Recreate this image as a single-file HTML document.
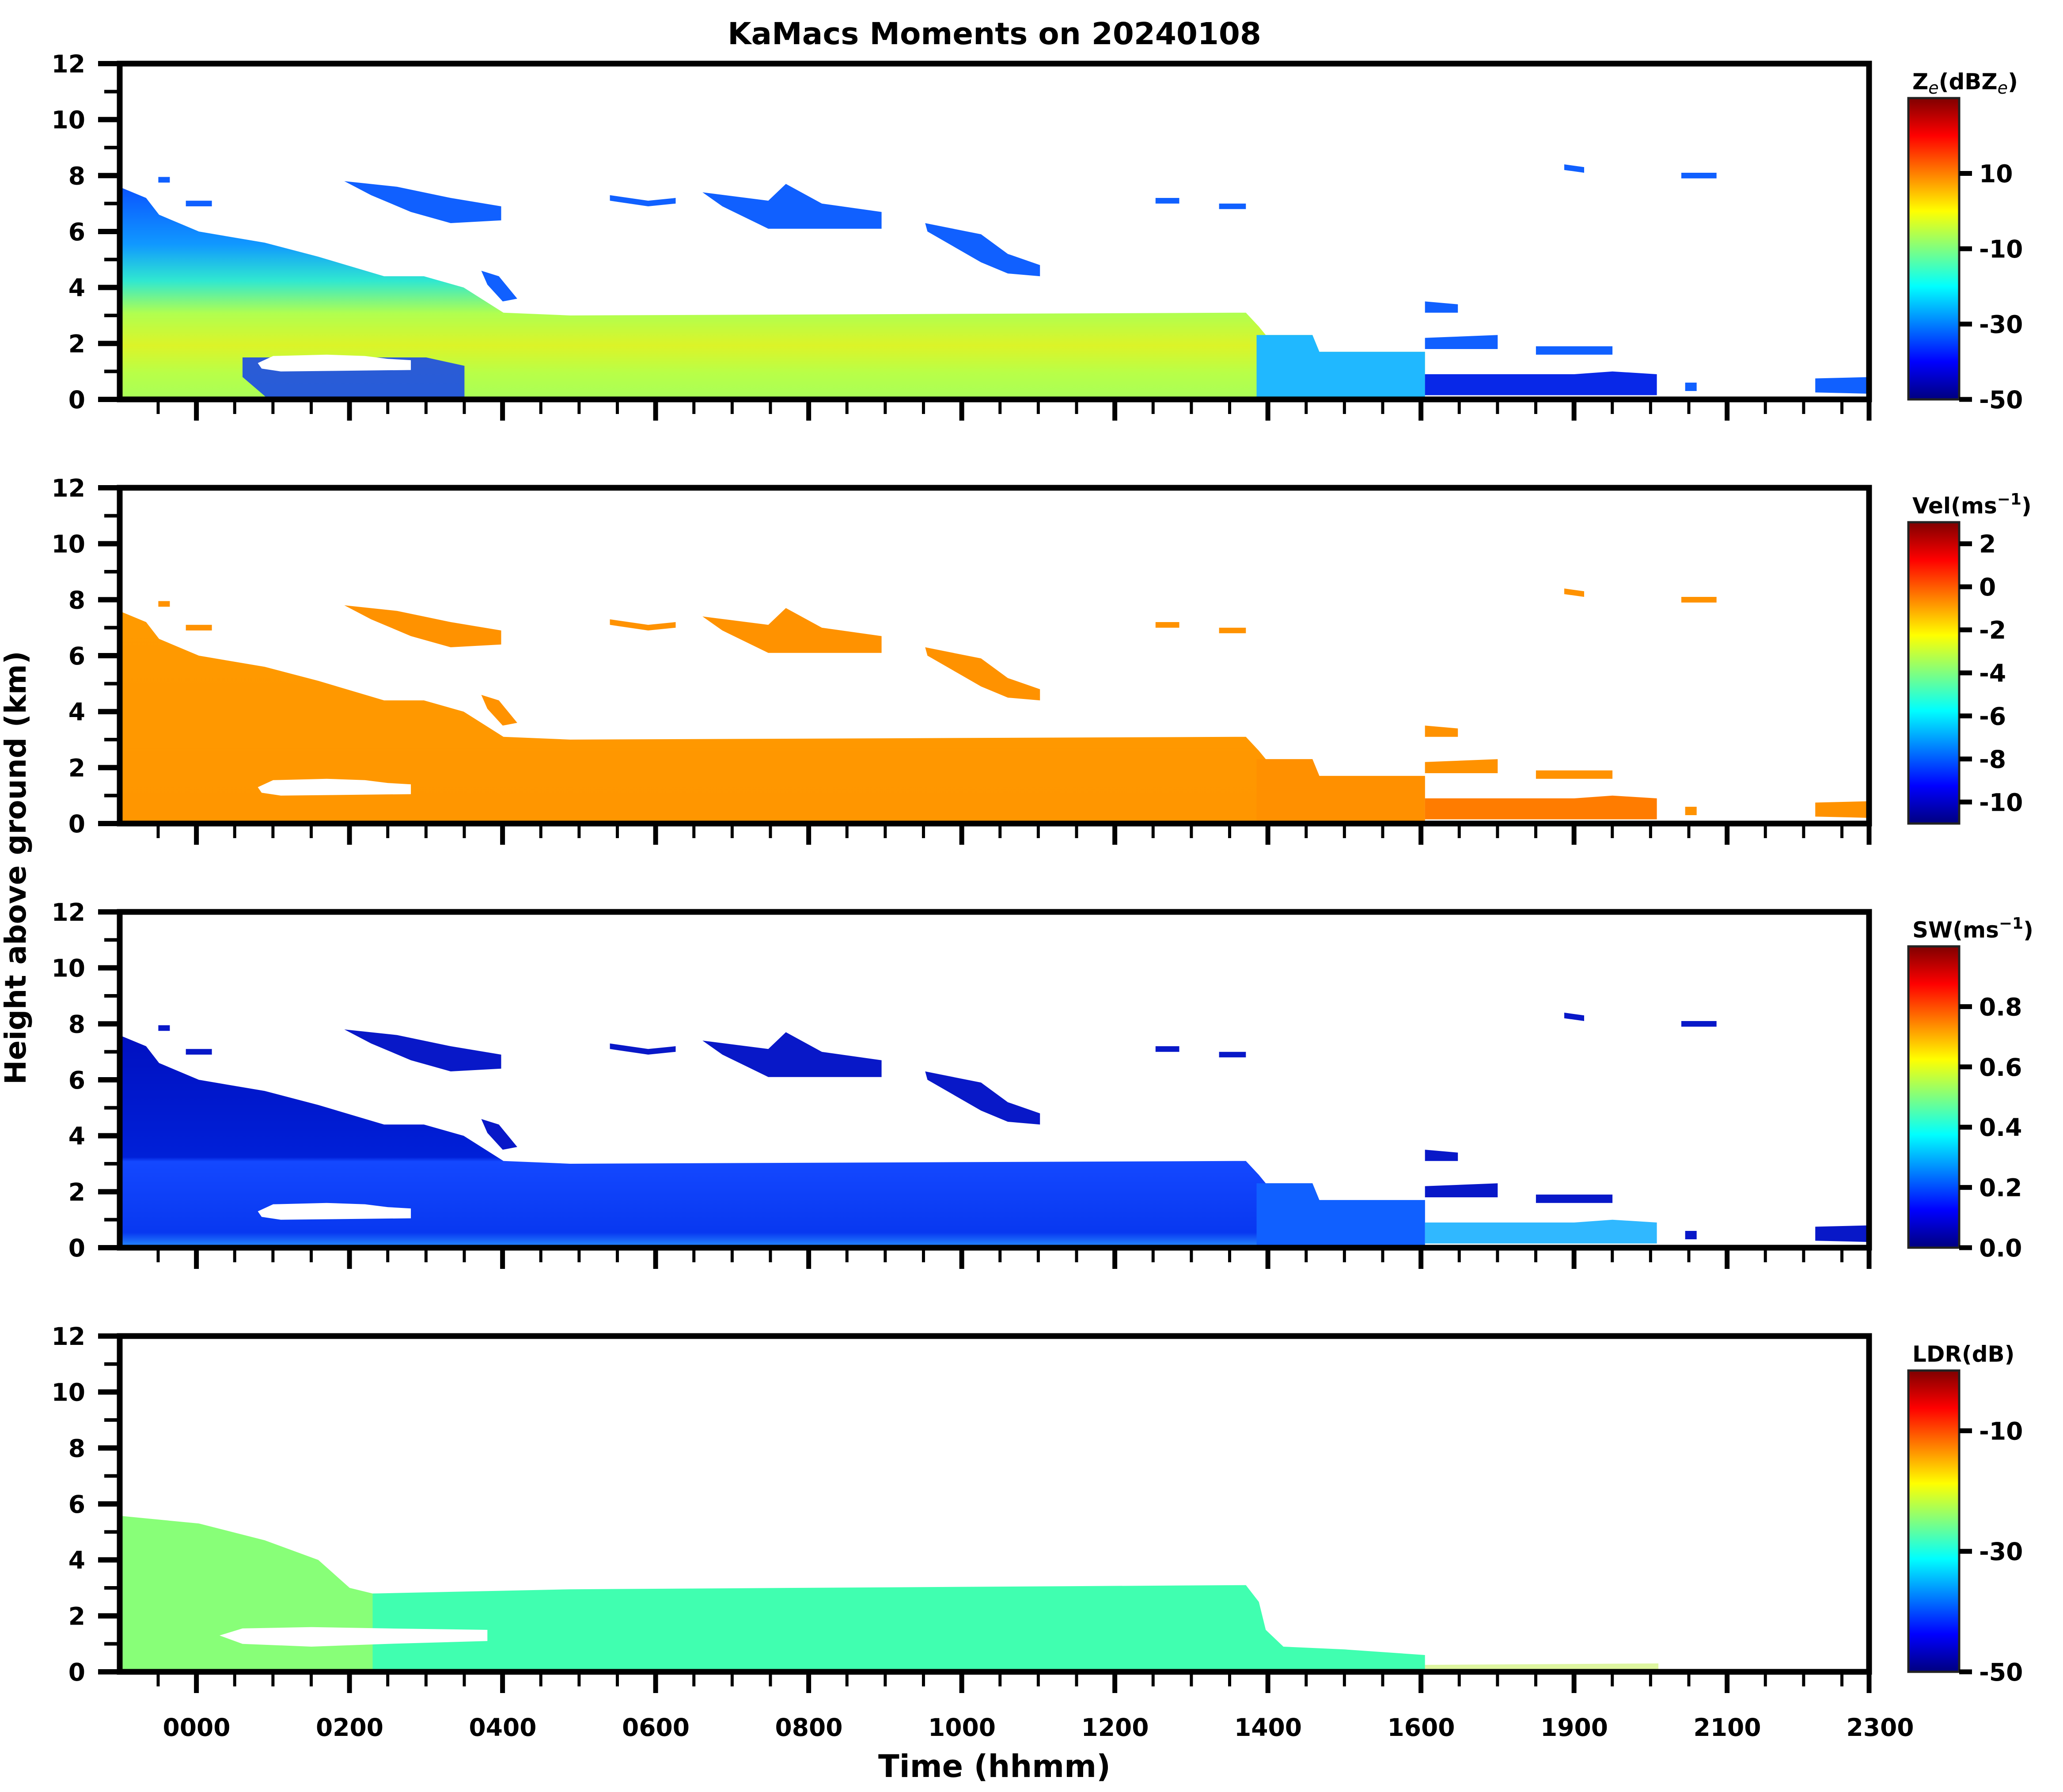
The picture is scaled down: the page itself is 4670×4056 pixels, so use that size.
<!DOCTYPE html>
<html><head><meta charset="utf-8"><style>
html,body{margin:0;padding:0;background:#fff;}
svg{display:block;font-family:"DejaVu Sans","Liberation Sans",sans-serif;font-weight:bold;}
</style></head><body>
<svg id="fig" xmlns="http://www.w3.org/2000/svg" width="4670" height="4056" viewBox="0 0 4670 4056"></svg>
<script>
// ---- data (hours since 0000, km) ----
const mainMass=[[-1.1,7.7],[-0.66,7.2],[-0.49,6.6],[0.03,6.0],[0.89,5.6],[1.59,5.1],[2.45,4.4],[2.97,4.4],[3.49,4.0],[4.01,3.1],[4.88,3.0],[13.71,3.1],[13.88,2.6],[13.97,2.3],[14.58,2.3],[14.67,1.7],[16.05,1.7],[16.05,0.05],[-1.1,0.05]];
const transZone=[[13.85,2.3],[14.58,2.3],[14.67,1.7],[16.05,1.7],[16.05,0.05],[13.85,0.05]];
const darkLayer=[[0.6,1.5],[3.0,1.5],[3.5,1.2],[3.5,0.1],[0.9,0.1],[0.6,0.8]];
const holeZ=[[0.8,1.3],[1.0,1.55],[1.7,1.6],[2.2,1.55],[2.5,1.45],[2.8,1.4],[2.8,1.05],[1.1,1.0],[0.85,1.1]];
const lowerLayer=[[16.05,0.9],[18.0,0.9],[18.5,1.0],[19.08,0.9],[19.08,0.15],[16.05,0.15]];
const upperClouds=[
 [[1.93,7.8],[2.62,7.6],[3.32,7.2],[3.98,6.9],[3.98,6.4],[3.32,6.3],[2.8,6.7],[2.28,7.3]],
 [[-0.14,7.1],[0.2,7.1],[0.2,6.9],[-0.14,6.9]],
 [[-0.5,7.95],[-0.35,7.95],[-0.35,7.75],[-0.5,7.75]],
 [[5.4,7.3],[5.9,7.1],[6.26,7.2],[6.26,7.0],[5.9,6.9],[5.4,7.1]],
 [[6.61,7.4],[7.47,7.1],[7.7,7.7],[8.17,7.0],[8.95,6.7],[8.95,6.1],[8.17,6.1],[7.47,6.1],[6.87,6.9]],
 [[9.52,6.3],[10.25,5.9],[10.6,5.2],[11.02,4.8],[11.02,4.4],[10.6,4.5],[10.25,4.9],[9.55,6.0]],
 [[3.72,4.6],[3.95,4.4],[4.19,3.6],[4.0,3.5],[3.8,4.1]],
 [[12.53,7.2],[12.84,7.2],[12.84,7.0],[12.53,7.0]],
 [[13.36,7.0],[13.71,7.0],[13.71,6.8],[13.36,6.8]],
 [[17.87,8.4],[18.13,8.3],[18.13,8.1],[17.87,8.2]],
 [[19.4,8.1],[19.86,8.1],[19.86,7.9],[19.4,7.9]],
 [[16.05,3.5],[16.48,3.4],[16.48,3.1],[16.05,3.1]],
 [[16.05,2.2],[17.0,2.3],[17.0,1.8],[16.05,1.8]],
 [[17.5,1.9],[18.5,1.9],[18.5,1.6],[17.5,1.6]],
 [[19.45,0.6],[19.6,0.6],[19.6,0.3],[19.45,0.3]],
 [[21.15,0.75],[21.9,0.8],[21.9,0.2],[21.15,0.25]]
];
const ldrLeft=[[-1.1,5.6],[0.03,5.3],[0.89,4.7],[1.59,4.0],[2.0,3.0],[2.3,2.8],[2.6,2.8],[2.6,0.05],[-1.1,0.05]];
const ldrBand=[[2.3,2.8],[4.88,2.95],[13.71,3.1],[13.88,2.5],[13.97,1.5],[14.2,0.9],[15.0,0.8],[16.05,0.6],[16.05,0.05],[2.3,0.05]];
const ldrHole=[[0.3,1.3],[0.6,1.55],[1.5,1.6],[2.5,1.55],[3.8,1.5],[3.8,1.1],[2.5,1.0],[1.5,0.9],[0.6,1.0]];
const ldrTail=[[16.05,0.25],[19.1,0.3],[19.1,0.05],[16.05,0.05]];
// ---- axis / tick data ----
const yTicks=[0,2,4,6,8,10,12];
const xTickLabels=["0000","0200","0400","0600","0800","1000","1200","1400","1600","1900","2100"];
const cbTicks=[[10,-10,-30,-50],[2,0,-2,-4,-6,-8,-10],[0.0,0.2,0.4,0.6,0.8],[-10,-30,-50]];
const cbTickText=[["10","-10","-30","-50"],["2","0","-2","-4","-6","-8","-10"],["0.0","0.2","0.4","0.6","0.8"],["-10","-30","-50"]];
const cbRange=[[-50,30],[-11,3],[0,1],[-50,0]];
const cbTitles=['Z<tspan font-style="italic" font-weight="normal" font-size="38" dy="10">e</tspan><tspan dy="-10">(dBZ</tspan><tspan font-style="italic" font-weight="normal" font-size="38" dy="10">e</tspan><tspan dy="-10">)</tspan>',
 'Vel(ms<tspan font-size="36" dy="-20">−1</tspan><tspan dy="20">)</tspan>',
 'SW(ms<tspan font-size="36" dy="-20">−1</tspan><tspan dy="20">)</tspan>','LDR(dB)'];
const panelNames=["reflectivity","velocity","spectrum-width","ldr"];

const NS="http://www.w3.org/2000/svg";
const svg=document.getElementById('fig');
const L=271,R=4231,TOPS=[144,1104,2064,3024],H=760;
function xs(h){return 445+173.25*h;}
function ys(p,km){return TOPS[p]+H-km*H/12;}
function mk(tag,attrs,parent){const e=document.createElementNS(NS,tag);for(const k in attrs)e.setAttribute(k,attrs[k]);(parent||svg).appendChild(e);return e;}
function pts(p,arr){return arr.map(a=>xs(a[0]).toFixed(1)+','+ys(p,a[1]).toFixed(1)).join(' ');}
const defs=mk('defs',{});
const jg=mk('linearGradient',{id:'jet',x1:0,y1:1,x2:0,y2:0},defs);
[[0,'#00007f'],[0.125,'#0000ff'],[0.375,'#00ffff'],[0.625,'#ffff00'],[0.875,'#ff0000'],[1,'#7f0000']].forEach(s=>mk('stop',{offset:s[0],'stop-color':s[1]},jg));
function vgrad(id,p,stops){const g=mk('linearGradient',{id:id,gradientUnits:'userSpaceOnUse',x1:0,x2:0,y1:ys(p,7.7),y2:ys(p,0)},defs);stops.forEach(s=>mk('stop',{offset:s[0],'stop-color':s[1]},g));return 'url(#'+id+')';}
const mainFill=[
 vgrad('g0',0,[[0,'#0a50ff'],[0.28,'#1098ff'],[0.45,'#30e8d0'],[0.6,'#b0ff50'],[0.75,'#dcf428'],[0.88,'#b8ff48'],[1,'#a8ff58']]),
 vgrad('g1',1,[[0,'#ff9a00'],[1,'#ff9600']]),
 vgrad('g2',2,[[0,'#0010c0'],[0.58,'#0020d8'],[0.6,'#1448ff'],[0.93,'#0838f0'],[1,'#2890ff']]),
 null];
const colors={
 trans:['#20b8ff','#ff9000','#1060ff'],
 dark:['#1040f0',null,null],
 upper:['#1060ff','#ff9200','#0818c8'],
 lower:['#0828e8','#ff7c00','#30b8ff']
};
for(let p=0;p<4;p++){
 const top=TOPS[p],bot=top+H;
 const g=mk('g',{},svg);
 
 
 const cp=mk('clipPath',{id:'clip'+p},defs);
 mk('rect',{x:L,y:top,width:R-L,height:H},cp);
 const plot=mk('g',{'clip-path':'url(#clip'+p+')'},g);
 
 
 if(p<3){
  const m=mk('polygon',{points:pts(p,mainMass),fill:mainFill[p]},plot);
  
  
  const t=mk('polygon',{points:pts(p,transZone),fill:colors.trans[p]},plot);
  
  
  if(colors.dark[p]){const d=mk('polygon',{points:pts(p,darkLayer),fill:colors.dark[p],opacity:0.85},plot);
   
   }
  const h=mk('polygon',{points:pts(p,holeZ),fill:'#fff'},plot);
  
  
  const lw=mk('polygon',{points:pts(p,lowerLayer),fill:colors.lower[p]},plot);
  
  
  upperClouds.forEach(c=>{const u=mk('polygon',{points:pts(p,c),fill:colors.upper[p]},plot);
   
   });
 } else {
  const a=mk('polygon',{points:pts(p,ldrLeft),fill:'#88ff78'},plot);
  
  
  const b=mk('polygon',{points:pts(p,ldrBand),fill:'#40ffb0'},plot);
  
  
  const h=mk('polygon',{points:pts(p,ldrHole),fill:'#fff'},plot);
  
  
  const t=mk('polygon',{points:pts(p,ldrTail),fill:'#c8f060',opacity:0.6},plot);
  
  
 }
 const fr=mk('rect',{x:L,y:top,width:R-L,height:H,fill:'none',stroke:'#000','stroke-width':13},g);
 
 
 for(let k=0;k<=12;k++){
  const y=ys(p,k);const maj=k%2===0;
  mk('line',{x1:maj?222:236,x2:265,y1:y,y2:y,stroke:'#000','stroke-width':maj?12:8},g);
 }
 yTicks.forEach(v=>{const t=mk('text',{x:193,y:ys(p,v)+20,'text-anchor':'end','font-size':55},g);t.textContent=String(v);
  
  });
 for(let k=0;;k++){const x=358+86.625*k;if(x>R-5)break;const maj=k>=1&&(k-1)%4===0;
  mk('line',{x1:x,x2:x,y1:bot+6,y2:bot+(maj?48:33),stroke:'#000','stroke-width':maj?11:7},g);}
 mk('line',{x1:R,x2:R,y1:bot+6,y2:bot+48,stroke:'#000','stroke-width':11},g);
 if(p===3){
  xTickLabels.forEach((s,i)=>{const t=mk('text',{x:445+346.5*i,y:3929,'text-anchor':'middle','font-size':55},g);t.textContent=s;
   
   });
  const t=mk('text',{x:R+25,y:3929,'text-anchor':'middle','font-size':55},g);t.textContent="2300";
  
  
 }
 const cbT=top+78,cbB=bot,[lo,hi]=cbRange[p];
 const cb=mk('rect',{x:4320,y:cbT,width:115,height:cbB-cbT,fill:'url(#jet)',stroke:'#222','stroke-width':5},g);
 
 
 cbTicks[p].forEach((v,i)=>{const y=cbB-(v-lo)/(hi-lo)*(cbB-cbT);
  mk('line',{x1:4435,x2:4464,y1:y,y2:y,stroke:'#000','stroke-width':11},g);
  const t=mk('text',{x:4480,y:y+20,'font-size':55},g);t.textContent=cbTickText[p][i];
  
  });
 const ct=mk('text',{x:4329,y:top+58,'font-size':50},g);ct.innerHTML=cbTitles[p];
 
 
}
const title=mk('text',{x:2251,y:100,'text-anchor':'middle','font-size':69});title.textContent="KaMacs Moments on 20240108";


const yl=mk('text',{x:0,y:0,'text-anchor':'middle','font-size':66,transform:'translate(58,1964) rotate(-90)'});yl.textContent="Height above ground (km)";


const xl=mk('text',{x:2251,y:4022,'text-anchor':'middle','font-size':70});xl.textContent="Time (hhmm)";


</script>
</body></html>
